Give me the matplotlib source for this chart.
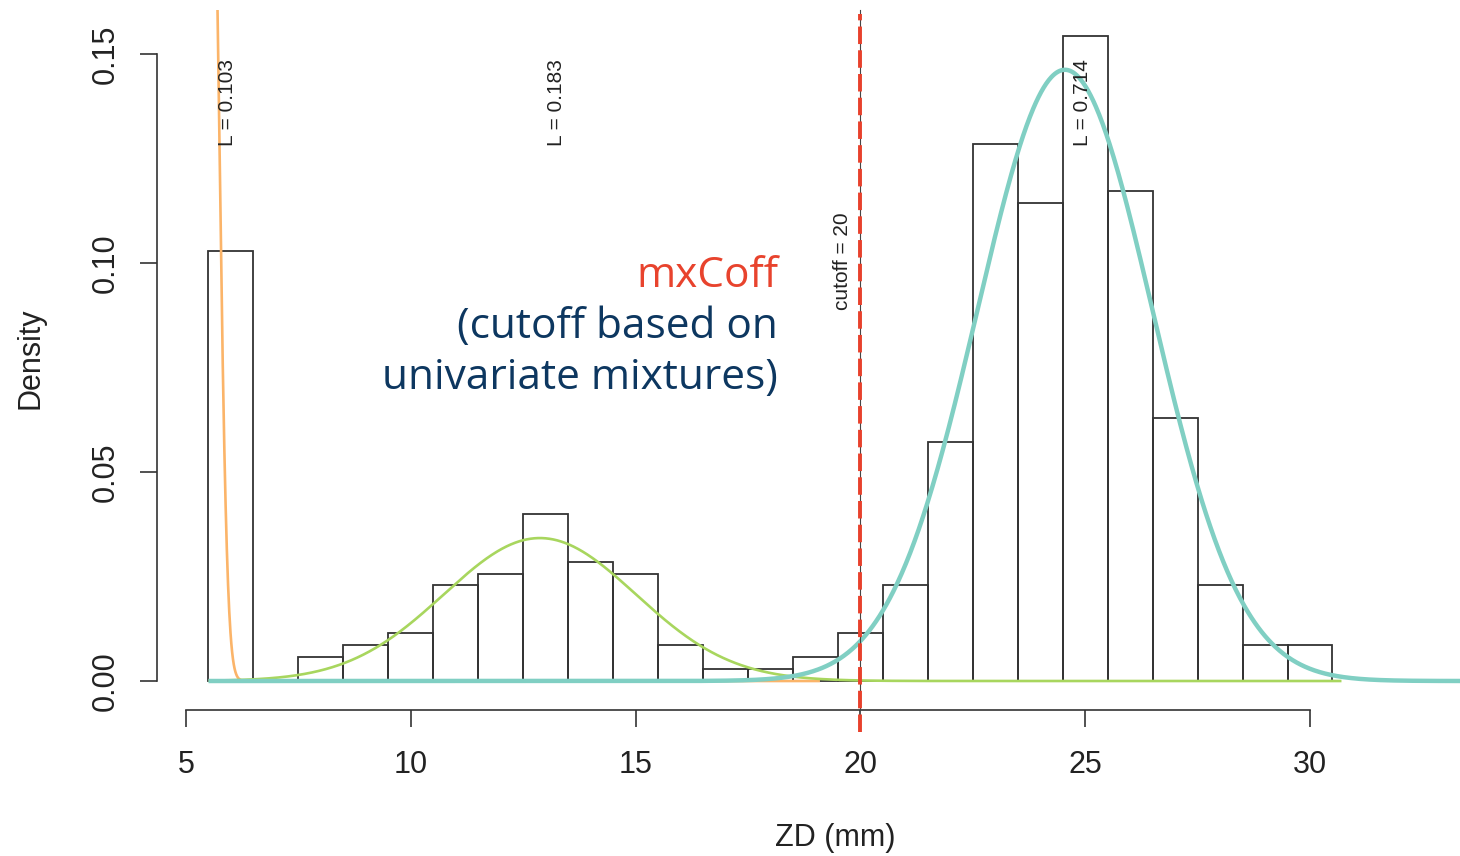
import numpy as np
import matplotlib
matplotlib.use("Agg")
import matplotlib.pyplot as plt

# histogram of ZD (mm): bin edges 5.5 .. 30.5, counts
bin_left = np.arange(5.5, 30.5, 1.0)
counts = [36, 0, 2, 3, 4, 8, 9, 14, 10, 9, 3, 1, 1, 2, 4, 8, 20, 45, 40, 54, 41, 22, 8, 3, 3]

# mixture components (lambda, mean, sd) and the x range each curve covers
comp_lambda = [0.103, 0.183, 0.714]
comp_mu = [5.55, 12.87, 24.55]
comp_sd = [0.18, 2.135, 1.948]
comp_xmax = [19.1, 30.7, 34.0]
comp_color = ["#FBB469", "#A8D65E", "#80CFC3"]
comp_lw = [1.9, 1.9, 3.2]
label_x = [5.93, 13.25, 24.95]

cutoff = 20

BLACK = "#222222"
plt.rcParams["font.family"] = ["Liberation Sans", "DejaVu Sans"]

fig = plt.figure(figsize=(14.6, 8.56), dpi=100)
ax = fig.add_axes([157 / 1460, 1 - 710 / 856, 1 - 157 / 1460, 700 / 856])

N = sum(counts)
dens = np.array(counts) / N
ax.bar(bin_left, dens, width=1.0, align="edge", fill=False,
       edgecolor="#333333", linewidth=1.3, zorder=2)


def npdf(x, mu, sd):
    return np.exp(-0.5 * ((x - mu) / sd) ** 2) / (sd * np.sqrt(2 * np.pi))


for lam, mu, sd, xmax, col, lw in zip(comp_lambda, comp_mu, comp_sd,
                                     comp_xmax, comp_color, comp_lw):
    xs = np.linspace(5.5, xmax, 1500)
    ax.plot(xs, lam * npdf(xs, mu, sd), color=col, lw=lw, zorder=3,
            solid_capstyle="butt")

for lx, lam in zip(label_x, comp_lambda):
    ax.text(lx, 0.1385, f"L = {lam}", rotation=90, ha="center", va="center",
            fontsize=15, color=BLACK, zorder=5)

# cutoff line (drawn past the bottom of the axes like the R device does)
ax.axvline(cutoff, ymin=0, ymax=1, color="#444444", lw=0.8, zorder=4, clip_on=False)
ax.plot([cutoff, cutoff], [-0.0121, 0.1595], color="#E8412C", lw=2.8,
        dashes=(4.5, 1.6), zorder=4, clip_on=False)
ax.text(19.61, 0.1005, f"cutoff = {cutoff}", rotation=90, ha="center",
        va="center", fontsize=15, color=BLACK, zorder=5)

ax.set_xlim(5 + (157 - 186) / 44.96, 5 + (1460 - 186) / 44.96)
ax.set_ylim(-29 / 4180, 671 / 4180)

for s in ["top", "right"]:
    ax.spines[s].set_visible(False)
ax.spines["left"].set_bounds(0, 0.15)
ax.spines["bottom"].set_bounds(5, 30)
for s in ["left", "bottom"]:
    ax.spines[s].set_linewidth(1.2)
    ax.spines[s].set_color("#333333")

ax.set_xticks([5, 10, 15, 20, 25, 30])
ax.set_yticks([0.0, 0.05, 0.10, 0.15])
ax.set_yticklabels(["0.00", "0.05", "0.10", "0.15"], rotation=90, va="center")
ax.tick_params(axis="both", length=12, width=1.2, color="#333333",
               labelsize=22, labelcolor=BLACK)
ax.tick_params(axis="y", pad=14)
ax.tick_params(axis="x", pad=17)

fig.text(835 / 1460, 1 - 838 / 856, "ZD (mm)", ha="center", va="center",
         fontsize=22, color=BLACK)
fig.text(30 / 1460, 1 - 358 / 856, "Density", ha="center", va="center",
         rotation=90, fontsize=22, color=BLACK)

# overlay annotation
ov = ["Open Sans", "DejaVu Sans"]
fig.text(778 / 1460, 1 - 287 / 856, "mxCoff", ha="right", va="baseline",
         fontsize=30.5, color="#E8432D", family=ov)
fig.text(778 / 1460, 1 - 338 / 856, "(cutoff based on", ha="right",
         va="baseline", fontsize=30.5, color="#0D3760", family=ov)
fig.text(778 / 1460, 1 - 389 / 856, "univariate mixtures)", ha="right",
         va="baseline", fontsize=30.5, color="#0D3760", family=ov)

fig.savefig("out.png", dpi=100)
